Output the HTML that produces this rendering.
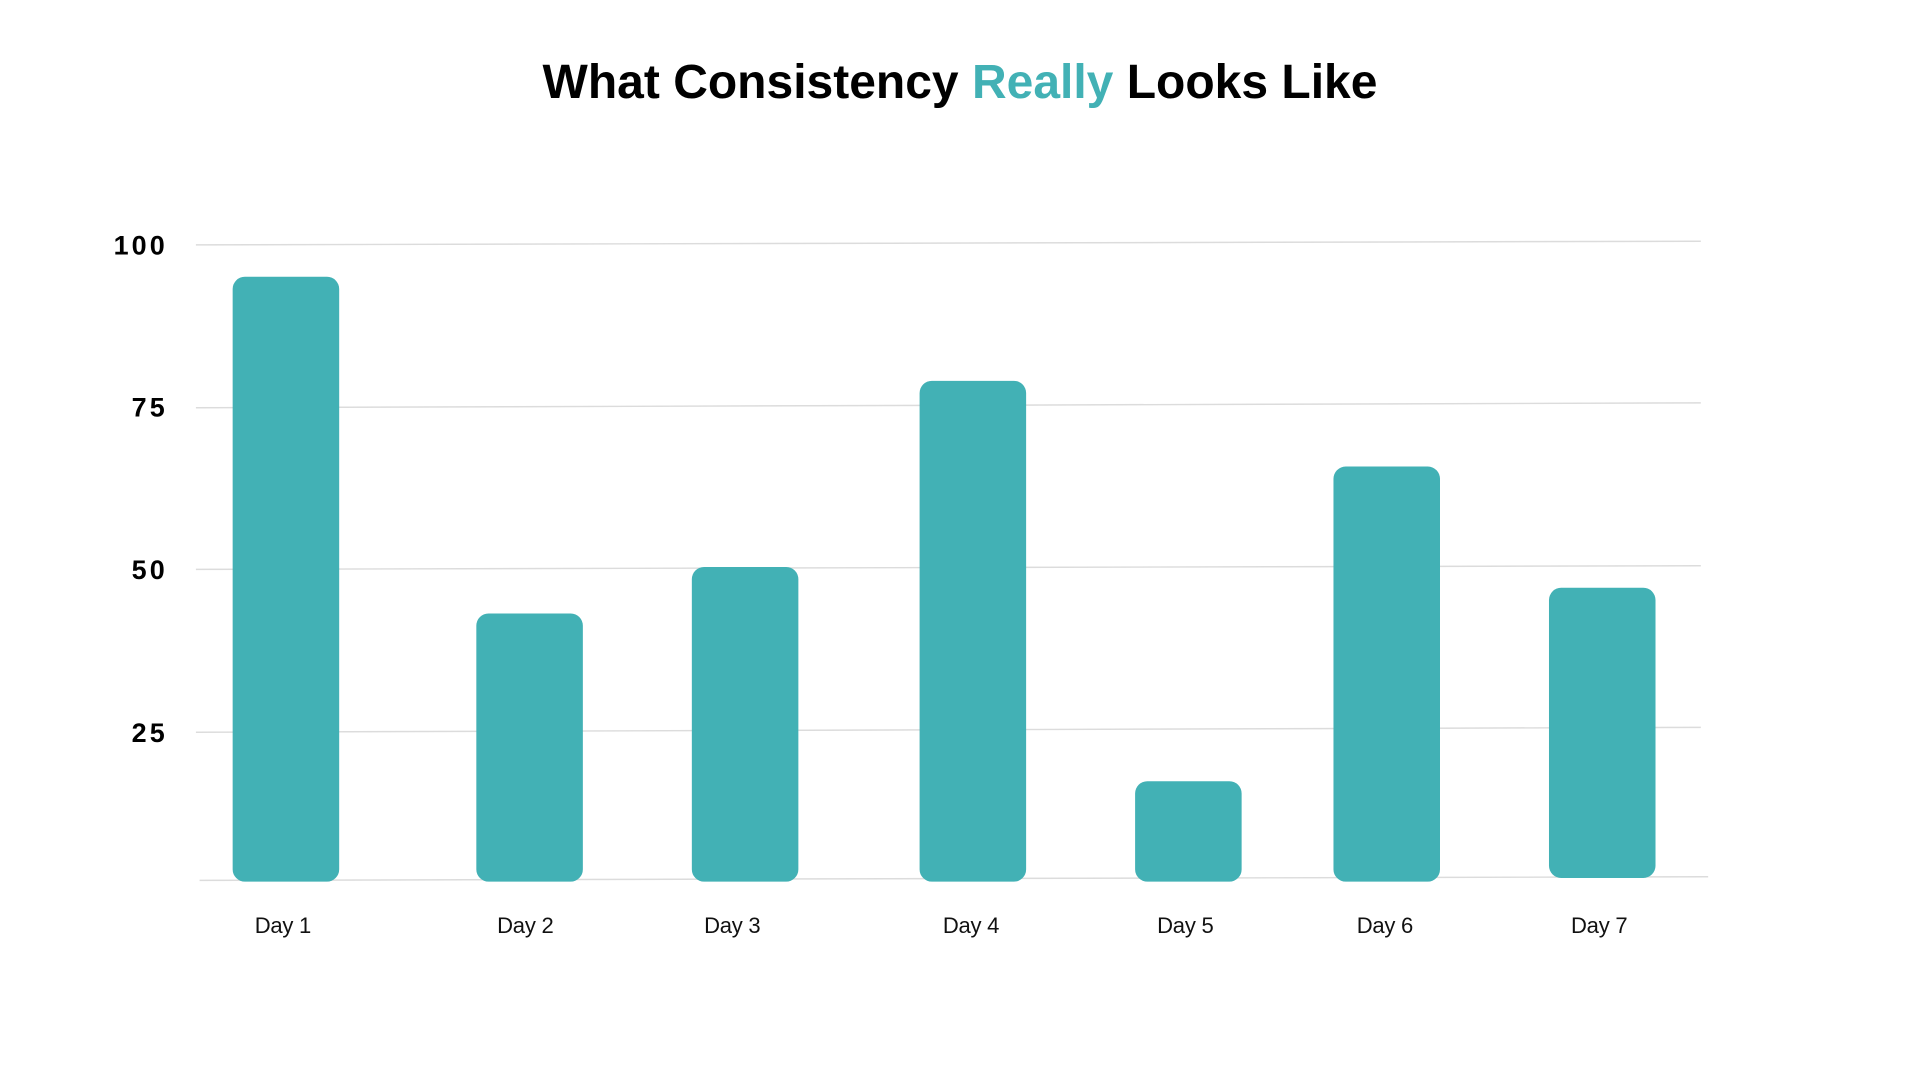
<!DOCTYPE html>
<html>
<head>
<meta charset="utf-8">
<style>
html,body{margin:0;padding:0;background:#fff;}
svg{display:block;}
text{font-family:"Liberation Sans","DejaVu Sans",sans-serif;}
</style>
</head>
<body>
<svg width="1920" height="1080" viewBox="0 0 1568 882" xmlns="http://www.w3.org/2000/svg">
<rect width="1568" height="882" fill="#fff"/>
<text x="784" y="80" text-anchor="middle" font-size="39.2" font-weight="bold" fill="#000">What Consistency <tspan fill="#42b1b5">Really</tspan> Looks Like</text>
<g stroke="#dcdcdc" stroke-width="1.2">
<line x1="160" y1="200" x2="1389" y2="197"/>
<line x1="160" y1="333" x2="1389" y2="329"/>
<line x1="160" y1="465" x2="1389" y2="462"/>
<line x1="160" y1="598" x2="1389" y2="594"/>
<line x1="163" y1="719" x2="1395" y2="716"/>
</g>
<g font-size="22" font-weight="bold" fill="#000" text-anchor="end" letter-spacing="2.5">
<text x="137" y="208">100</text>
<text x="137" y="340">75</text>
<text x="137" y="473">50</text>
<text x="137" y="606">25</text>
</g>
<g fill="#42b1b5">
<rect x="190" y="226" width="87" height="494" rx="10"/>
<rect x="389" y="501" width="87" height="219" rx="10"/>
<rect x="565" y="463" width="87" height="257" rx="10"/>
<rect x="751" y="311" width="87" height="409" rx="10"/>
<rect x="927" y="638" width="87" height="82" rx="10"/>
<rect x="1089" y="381" width="87" height="339" rx="10"/>
<rect x="1265" y="480" width="87" height="237" rx="10"/>
</g>
<g font-size="18" fill="#111" text-anchor="middle" letter-spacing="-0.2">
<text x="231" y="762">Day 1</text>
<text x="429" y="762">Day 2</text>
<text x="598" y="762">Day 3</text>
<text x="793" y="762">Day 4</text>
<text x="968" y="762">Day 5</text>
<text x="1131" y="762">Day 6</text>
<text x="1306" y="762">Day 7</text>
</g>
</svg>
</body>
</html>
